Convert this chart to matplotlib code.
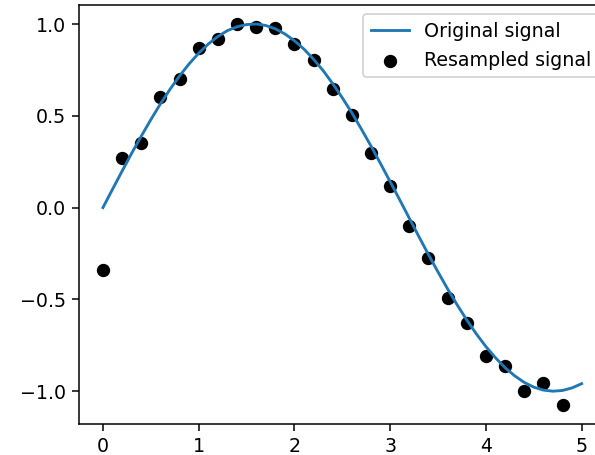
import numpy as np
import matplotlib.pyplot as plt

# Original signal, every 0.1
x_orig = [round(0.1 * i, 1) for i in range(51)]
y_orig = [0.000, 0.100, 0.199, 0.296, 0.389, 0.479, 0.565, 0.644, 0.717, 0.783,
          0.841, 0.891, 0.932, 0.964, 0.985, 0.997, 1.000, 0.992, 0.974, 0.946,
          0.909, 0.863, 0.808, 0.746, 0.675, 0.598, 0.516, 0.427, 0.335, 0.239,
          0.141, 0.042, -0.058, -0.158, -0.256, -0.351, -0.443, -0.530, -0.612, -0.688,
          -0.757, -0.818, -0.872, -0.916, -0.952, -0.978, -0.994, -1.000, -0.996, -0.982,
          -0.959]

# Resampled signal (25 points)
x_res = [0.0, 0.2, 0.4, 0.6, 0.8, 1.0, 1.2, 1.4, 1.6, 1.8,
         2.0, 2.2, 2.4, 2.6, 2.8, 3.0, 3.2, 3.4, 3.6, 3.8,
         4.0, 4.2, 4.4, 4.6, 4.8]
y_res = [-0.34, 0.27, 0.35, 0.60, 0.70, 0.87, 0.92, 1.00, 0.985, 0.98,
         0.89, 0.805, 0.645, 0.505, 0.295, 0.12, -0.10, -0.275, -0.49, -0.63,
         -0.81, -0.865, -1.00, -0.955, -1.075]

# reference looks rendered at ~1.37x, so draw small and save at higher dpi
dpi = 137
fig = plt.figure(figsize=(595 / dpi, 455 / dpi), dpi=dpi)
# axes runs a bit past the right edge, like the cropped reference
ax = fig.add_axes([0.1328, 0.0681, 0.885, 0.921])

ax.plot(x_orig, y_orig, label='Original signal')
ax.scatter(x_res, y_res, color='black', label='Resampled signal')
# nudge legend a few px right so its frame is cut off at the edge
ax.legend(loc='upper right', bbox_to_anchor=(1.006, 1.0))

fig.savefig('out.png', dpi=dpi)
